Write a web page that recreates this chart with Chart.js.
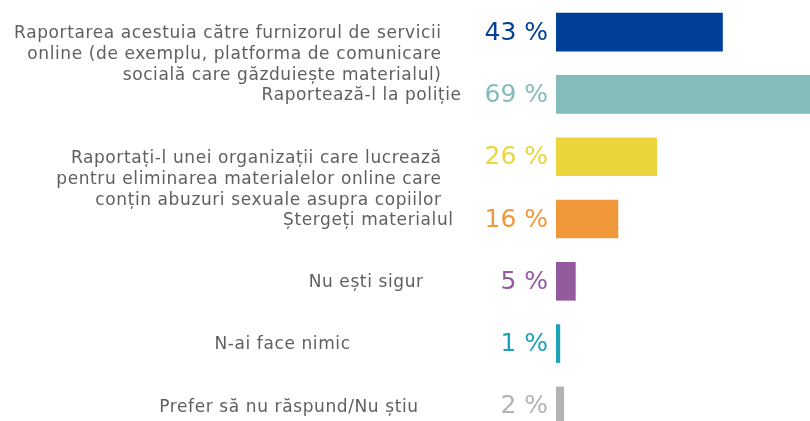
<!DOCTYPE html>
<html>
<head>
<meta charset="utf-8">
<script src="https://cdn.jsdelivr.net/npm/chart.js@4.4.1/dist/chart.umd.min.js"></script>
<style>
  html, body { margin: 0; padding: 0; background: #fff; overflow: hidden; }
  #wrap { width: 810px; height: 421px; overflow: hidden; }
</style>
</head>
<body>
<div id="wrap"><canvas id="answersChart" width="810" height="440"></canvas></div>
<script>
const categories = [
  ['Raportarea acestuia către furnizorul de servicii', 'online (de exemplu, platforma de comunicare', 'socială care găzduiește materialul)'],
  ['Raportează-l la poliție'],
  ['Raportați-l unei organizații care lucrează', 'pentru eliminarea materialelor online care', 'conțin abuzuri sexuale asupra copiilor'],
  ['Ștergeți materialul'],
  ['Nu ești sigur'],
  ['N-ai face nimic'],
  ['Prefer să nu răspund/Nu știu']
];
const percentages = [43, 69, 26, 16, 5, 1, 2];
const barColors = ['#004098', '#84bbbb', '#ecd43c', '#f0973a', '#935a9e', '#1fa3b8', '#b3b3b3'];

// where each left-hand label ends (the source is not evenly aligned)
const labelRight = [441, 461, 441, 453, 423, 350, 418];

const ctx = document.getElementById('answersChart').getContext('2d');

const sideLabels = {
  id: 'sideLabels',
  afterDatasetsDraw(chart) {
    const c = chart.ctx;
    const yScale = chart.scales.y;
    c.save();
    c.textBaseline = 'middle';
    c.textAlign = 'right';
    categories.forEach(function(lines, i) {
      const y = yScale.getPixelForValue(i);
      c.font = '17px "DejaVu Sans", Verdana, sans-serif';
      c.letterSpacing = '0.6px';
      c.fillStyle = '#5f5f5f';
      lines.forEach(function(line, k) {
        c.fillText(line, labelRight[i] + 0.6, y + 1.5 + k * 21);
      });
      c.font = '25px "DejaVu Sans", Verdana, sans-serif';
      c.letterSpacing = '0px';
      c.fillStyle = barColors[i];
      c.fillText(percentages[i] + ' %', 548, y + 1);
    });
    c.restore();
  }
};

new Chart(ctx, {
  type: 'bar',
  data: {
    labels: categories,
    datasets: [{
      data: percentages,
      backgroundColor: barColors,
      borderWidth: 0,
      barThickness: 38
    }]
  },
  options: {
    indexAxis: 'y',
    responsive: false,
    animation: false,
    devicePixelRatio: 1,
    layout: { padding: { left: 556, right: 0, top: 1, bottom: 3 } },
    plugins: {
      legend: { display: false },
      tooltip: { enabled: false }
    },
    scales: {
      x: { display: false, min: 0, max: 65.6 },
      y: { display: false }
    }
  },
  plugins: [sideLabels]
});
</script>
</body>
</html>
